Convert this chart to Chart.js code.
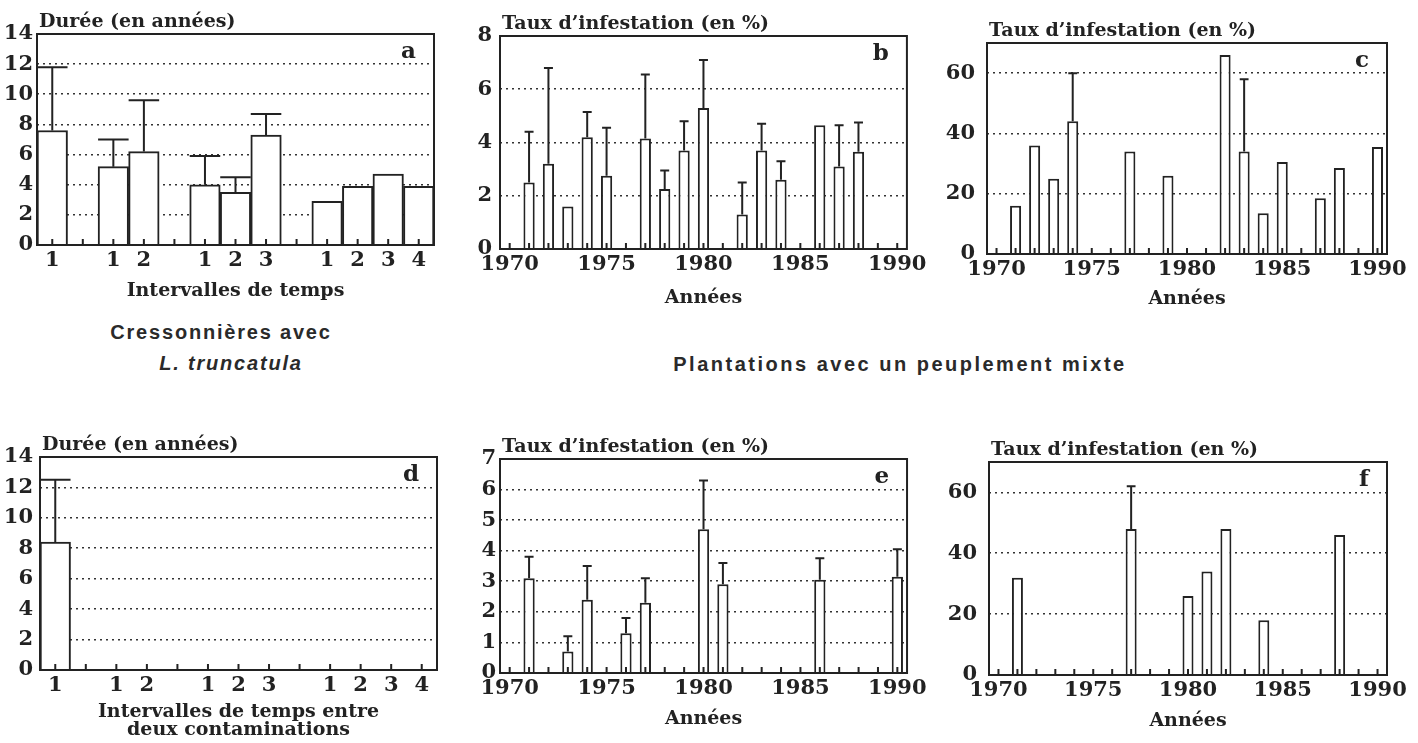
<!DOCTYPE html>
<html>
<head>
<meta charset="utf-8">
<script src="https://cdn.jsdelivr.net/npm/chart.js@4.4.1/dist/chart.umd.min.js"></script>
<style>
  body { margin: 0; background: #fff; }
  #page { position: relative; width: 1418px; height: 743px; overflow: hidden; }
  .box { position: absolute; }
  .cap { position: absolute; font-family: 'Liberation Sans', Arial, sans-serif; font-weight: bold; font-size: 20px; color: #2a2a2a; letter-spacing: 1.8px; text-align: center; white-space: nowrap; }
</style>
</head>
<body>
<div id="page">
  <div class="box" style="left:0;top:0;width:460px;height:310px"><canvas id="chartA"></canvas></div>
  <div class="box" style="left:460px;top:0;width:470px;height:310px"><canvas id="chartB"></canvas></div>
  <div class="box" style="left:945px;top:0;width:470px;height:310px"><canvas id="chartC"></canvas></div>
  <div class="box" style="left:0;top:420px;width:460px;height:323px"><canvas id="chartD"></canvas></div>
  <div class="box" style="left:460px;top:420px;width:470px;height:323px"><canvas id="chartE"></canvas></div>
  <div class="box" style="left:945px;top:420px;width:470px;height:323px"><canvas id="chartF"></canvas></div>

  <div class="cap" style="left:0;top:321px;width:442px">Cressonnières avec</div>
  <div class="cap" style="left:0;top:352px;width:462px;font-style:italic">L. truncatula</div>
  <div class="cap" style="left:600px;top:353px;width:600px;letter-spacing:2.5px">Plantations avec un peuplement mixte</div>
</div>
<script>
// intervalles (panneaux a et d)
const intervalLabels = ['1', '', '1', '2', '', '1', '2', '3', '', '1', '2', '3', '4'];
const dureeA    = [7.6, null, 5.2, 6.2, null, 4.0, 3.5, 7.3, null, 2.9, 3.9, 4.7, 3.9];
const dureeAErr = [11.8, null, 7.0, 9.6, null, 5.9, 4.5, 8.7, null, null, null, null, null];
const dureeD    = [8.4, null, null, null, null, null, null, null, null, null, null, null, null];
const dureeDErr = [12.5, null, null, null, null, null, null, null, null, null, null, null, null];

// annees (panneaux b, c, e, f)
const years = ['1970', '1971', '1972', '1973', '1974', '1975', '1976', '1977', '1978', '1979', '1980',
               '1981', '1982', '1983', '1984', '1985', '1986', '1987', '1988', '1989', '1990'];
const tauxB    = [null, 2.5, 3.2, 1.6, 4.2, 2.75, null, 4.15, 2.25, 3.7, 5.3, null, 1.3, 3.7, 2.6, null, 4.65, 3.1, 3.65, null, null];
const tauxBErr = [null, 4.4, 6.8, null, 5.15, 4.55, null, 6.55, 2.95, 4.8, 7.1, null, 2.5, 4.7, 3.3, null, null, 4.65, 4.75, null, null];
const tauxC    = [null, 16, 36, 25, 44, null, null, 34, null, 26, null, null, 66, 34, 13.5, 30.5, null, 18.5, 28.5, null, 35.5];
const tauxCErr = [null, null, null, null, 60, null, null, null, null, null, null, null, null, 58, null, null, null, null, null, null, null];
const tauxE    = [null, 3.1, null, 0.7, 2.4, null, 1.3, 2.3, null, null, 4.7, 2.9, null, null, null, null, 3.05, null, null, null, 3.15];
const tauxEErr = [null, 3.8, null, 1.2, 3.5, null, 1.8, 3.1, null, null, 6.3, 3.6, null, null, null, null, 3.75, null, null, null, 4.05];
const tauxF    = [null, 32, null, null, null, null, null, 48, null, null, 26, 34, 48, null, 18, null, null, null, 46, null, null];
const tauxFErr = [null, null, null, null, null, null, null, 62, null, null, null, null, null, null, null, null, null, null, null, null, null];

const ink = '#222';
const serif = 'DejaVu Serif';

// barre d'erreur : trait vertical + petit chapeau
const errorBars = {
  id: 'errorBars',
  afterDatasetsDraw(chart, args, opts) {
    if (!opts.values) return;
    const ctx = chart.ctx;
    const y = chart.scales.y;
    const meta = chart.getDatasetMeta(0);
    ctx.save();
    ctx.strokeStyle = ink;
    ctx.lineWidth = 2;
    ctx.beginPath();
    meta.data.forEach((bar, i) => {
      const v = opts.values[i];
      if (v == null) return;
      const top = y.getPixelForValue(v);
      const half = bar.width * opts.cap;
      ctx.moveTo(bar.x, bar.y);
      ctx.lineTo(bar.x, top);
      ctx.moveTo(bar.x - half, top);
      ctx.lineTo(bar.x + half, top);
    });
    ctx.stroke();
    ctx.restore();
  }
};

// cadre, graduations internes, titre de l'axe y et lettre du panneau
const frame = {
  id: 'frame',
  afterDraw(chart, args, opts) {
    const ctx = chart.ctx;
    const a = chart.chartArea;
    const x = chart.scales.x;
    ctx.save();
    ctx.strokeStyle = ink;
    ctx.lineWidth = 2;
    ctx.strokeRect(a.left, a.top, a.right - a.left, a.bottom - a.top);
    ctx.beginPath();
    x.ticks.forEach((t, i) => {
      const px = x.getPixelForTick(i);
      ctx.moveTo(px, a.bottom);
      ctx.lineTo(px, a.bottom - 6);
    });
    ctx.stroke();
    ctx.fillStyle = ink;
    ctx.textBaseline = 'middle';
    ctx.font = 'bold 19px "' + serif + '"';
    ctx.textAlign = 'left';
    ctx.fillText(opts.yTitle, a.left + 2, a.top - 12);
    ctx.font = 'bold 23px "' + serif + '"';
    ctx.textAlign = 'right';
    ctx.fillText(opts.letter, a.right - 18, a.top + 18);
    ctx.restore();
  }
};

function yearTick(value) {
  const l = this.getLabelForValue(value);
  return Number(l) % 5 === 0 ? l : '';
}

function makeChart(id, o) {
  const tickFont = { family: serif, weight: 'bold', size: 21 };
  return new Chart(document.getElementById(id), {
    type: 'bar',
    data: {
      labels: o.labels,
      datasets: [{
        data: o.values,
        backgroundColor: '#fff',
        borderColor: ink,
        borderWidth: 2,
        barPercentage: o.barPct,
        categoryPercentage: 1
      }]
    },
    options: {
      animation: false,
      responsive: true,
      maintainAspectRatio: false,
      layout: { padding: o.pad },
      plugins: {
        legend: { display: false },
        tooltip: { enabled: false },
        errorBars: { values: o.err, cap: o.cap },
        frame: { yTitle: o.yTitle, letter: o.letter }
      },
      scales: {
        x: {
          grid: { display: false, drawTicks: false },
          border: { display: false },
          ticks: {
            autoSkip: false, maxRotation: 0, padding: 3, color: ink, font: tickFont,
            callback: o.tickCb
          },
          title: {
            display: true, text: o.xTitle, color: ink,
            font: { family: serif, weight: 'bold', size: 19, lineHeight: 0.95 },
            padding: { top: 0, bottom: o.xTitlePad }
          },
          afterFit: s => { s.height = o.xH; }
        },
        y: {
          min: 0,
          max: o.yMax,
          grid: {
            drawTicks: false,
            lineWidth: 1.6,
            color: c => (c.tick.value === 0 || c.tick.value === o.yMax) ? 'rgba(0,0,0,0)' : '#333'
          },
          border: { display: false, dash: [2, 4] },
          ticks: {
            stepSize: o.step, padding: o.yPad, color: ink, font: tickFont,
            callback: v => (v % o.step === 0 ? v : '')
          },
          afterFit: s => { s.width = o.yW; }
        }
      }
    },
    plugins: [errorBars, frame]
  });
}

const dureeTitle = 'Durée (en années)';
const tauxTitle = 'Taux d\u2019infestation (en %)';

makeChart('chartA', {
  labels: intervalLabels, values: dureeA, err: dureeAErr, cap: 0.5, barPct: 1,
  yMax: 14, step: 2, yW: 37, yPad: 4, xH: 65, xTitlePad: 10,
  pad: { left: 0, top: 34, right: 26, bottom: 0 },
  xTitle: 'Intervalles de temps', yTitle: dureeTitle, letter: 'a',
  tickCb: function (v) { return this.getLabelForValue(v); }
});

makeChart('chartB', {
  labels: years, values: tauxB, err: tauxBErr, cap: 0.4, barPct: 0.58,
  yMax: 8, step: 2, yW: 40, yPad: 8, xH: 61, xTitlePad: 3,
  pad: { left: 0, top: 36, right: 23, bottom: 0 },
  xTitle: 'Années', yTitle: tauxTitle, letter: 'b', tickCb: yearTick
});

makeChart('chartC', {
  labels: years, values: tauxC, err: tauxCErr, cap: 0.4, barPct: 0.58,
  yMax: 70, step: 20, yW: 42, yPad: 12, xH: 56, xTitlePad: 2,
  pad: { left: 0, top: 43, right: 28, bottom: 0 },
  xTitle: 'Années', yTitle: tauxTitle, letter: 'c', tickCb: yearTick
});

makeChart('chartD', {
  labels: intervalLabels, values: dureeD, err: dureeDErr, cap: 0.5, barPct: 1,
  yMax: 14, step: 2, yW: 40, yPad: 7, xH: 73, xTitlePad: 4,
  pad: { left: 0, top: 37, right: 23, bottom: 0 },
  xTitle: ['Intervalles de temps entre', 'deux contaminations'], yTitle: dureeTitle, letter: 'd',
  tickCb: function (v) { return this.getLabelForValue(v); }
});

makeChart('chartE', {
  labels: years, values: tauxE, err: tauxEErr, cap: 0.4, barPct: 0.58,
  yMax: 7, step: 1, yW: 40, yPad: 4, xH: 70, xTitlePad: 15,
  pad: { left: 0, top: 39, right: 18, bottom: 0 },
  xTitle: 'Années', yTitle: tauxTitle, letter: 'e', tickCb: yearTick
});

makeChart('chartF', {
  labels: years, values: tauxF, err: tauxFErr, cap: 0.4, barPct: 0.58,
  yMax: 70, step: 20, yW: 44, yPad: 12, xH: 68, xTitlePad: 13,
  pad: { left: 0, top: 42, right: 28, bottom: 0 },
  xTitle: 'Années', yTitle: tauxTitle, letter: 'f', tickCb: yearTick
});
</script>
</body>
</html>
